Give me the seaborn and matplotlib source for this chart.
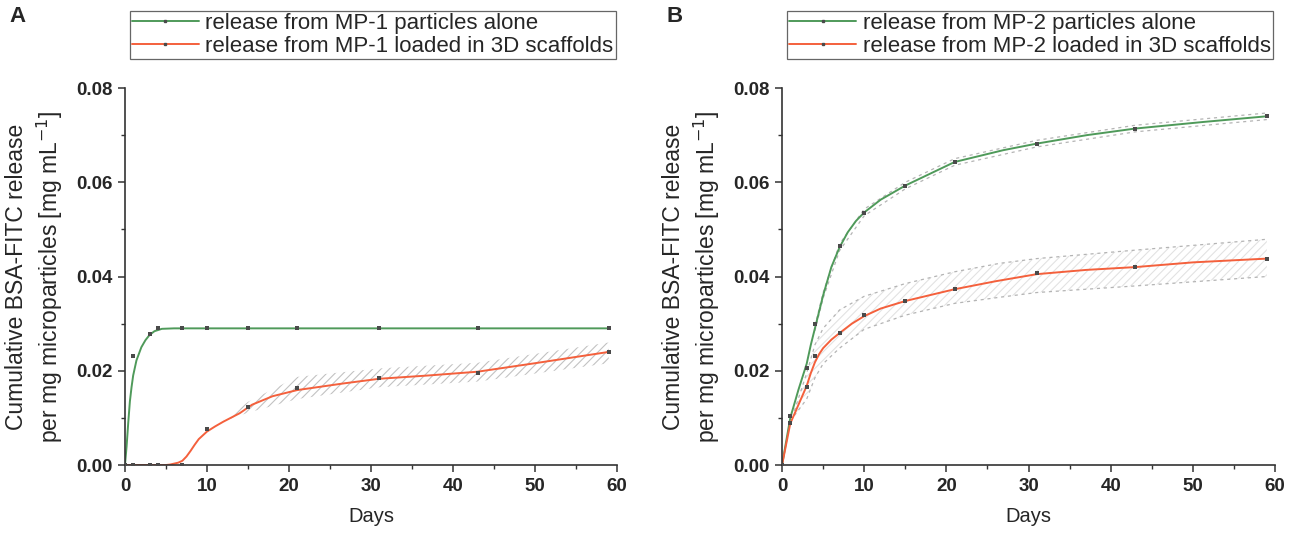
import numpy as np
import pandas as pd
import matplotlib
matplotlib.use("Agg")
import matplotlib.pyplot as plt
from matplotlib.lines import Line2D
from matplotlib.ticker import MultipleLocator, FormatStrFormatter
import seaborn as sns

# measured days
days = [0, 1, 3, 4, 7, 10, 15, 21, 31, 43, 59]

# Panel A - measured points
a_alone_pts = [0, 0.0231, 0.0279, 0.0290, 0.0290, 0.0290, 0.0290, 0.0290, 0.0290, 0.0290, 0.0290]
a_scaf_pts = [0, 0, 0, 0, 0, 0.0076, 0.0123, 0.0164, 0.0185, 0.0196, 0.0240]

# Panel A - fitted curves
a_alone_fit_x = [0, 0.2, 0.4, 0.6, 0.8, 1.0, 1.4, 2.0, 2.5, 3.0, 3.6, 4.5, 6, 59]
a_alone_fit_y = [0, 0.0040, 0.0090, 0.0135, 0.0165, 0.0190, 0.0222, 0.0250, 0.0265, 0.0276, 0.0284, 0.0289, 0.0290, 0.0290]
a_scaf_fit_x = [0, 5, 5.5, 6, 6.5, 7, 7.5, 8, 8.5, 9, 10, 11, 12, 14, 15.5, 18, 21, 26.6, 31, 37, 43, 50, 59]
a_scaf_fit_y = [0, 0, 0.0001, 0.0003, 0.0005, 0.0009, 0.0018, 0.0030, 0.0043, 0.0055, 0.0071, 0.0082,
                0.0092, 0.0110, 0.0128, 0.0146, 0.0159, 0.0173, 0.0183, 0.0190, 0.0198, 0.0216, 0.0240]

# Panel A - hatched band around the scaffold curve
a_band_x = [12, 15, 21, 31, 43, 59]
a_band_lo = [0.0093, 0.0111, 0.0140, 0.0165, 0.0177, 0.0216]
a_band_hi = [0.0097, 0.0134, 0.0187, 0.0205, 0.0217, 0.0260]

# Panel B - measured points
b_alone_pts = [0, 0.0103, 0.0206, 0.0300, 0.0465, 0.0534, 0.0593, 0.0643, 0.0682, 0.0714, 0.0740]
b_scaf_pts = [0, 0.0090, 0.0165, 0.0232, 0.0281, 0.0318, 0.0348, 0.0373, 0.0407, 0.0420, 0.0438]

# Panel B - fitted curves
b_alone_fit_x = [0, 1, 2, 3, 3.5, 4, 5, 6, 7, 8, 9, 10, 12, 15, 21, 26.9, 31, 37.1, 43, 51.3, 59]
b_alone_fit_y = [0, 0.0100, 0.0160, 0.0215, 0.0255, 0.0290, 0.0360, 0.0420, 0.0462, 0.0494, 0.0518,
                 0.0536, 0.0563, 0.0593, 0.0643, 0.0668, 0.0682, 0.0700, 0.0714, 0.0728, 0.0740]
b_scaf_fit_x = [0, 1, 2, 3, 3.5, 4, 4.5, 5, 6, 7, 8.5, 10, 12, 15, 21, 26, 31, 37, 43, 50, 59]
b_scaf_fit_y = [0, 0.0088, 0.0128, 0.0168, 0.0195, 0.0218, 0.0235, 0.0248, 0.0266, 0.0280, 0.0300,
                0.0316, 0.0332, 0.0348, 0.0373, 0.0390, 0.0405, 0.0414, 0.0420, 0.0430, 0.0438]

# Panel B - confidence bands
b_alone_band_x = [4, 5, 7, 10, 15, 21, 31, 43, 59]
b_alone_band_lo = [0.0285, 0.0354, 0.0455, 0.0529, 0.0586, 0.0636, 0.0675, 0.0707, 0.0733]
b_alone_band_hi = [0.0295, 0.0366, 0.0469, 0.0543, 0.0600, 0.0650, 0.0689, 0.0721, 0.0747]
b_scaf_band_x = [1.5, 3, 4, 5, 7, 10, 15, 21, 26.5, 31, 43, 59]
b_scaf_band_lo = [0.0105, 0.0140, 0.0185, 0.0215, 0.0248, 0.0288, 0.0318, 0.0343, 0.0356, 0.0366, 0.0380, 0.0400]
b_scaf_band_hi = [0.0115, 0.0195, 0.0255, 0.0290, 0.0329, 0.0358, 0.0385, 0.0410, 0.0428, 0.0438, 0.0456, 0.0479]

labels_a = ['release from MP-1 particles alone', 'release from MP-1 loaded in 3D scaffolds']
labels_b = ['release from MP-2 particles alone', 'release from MP-2 loaded in 3D scaffolds']

GREEN = '#4f9a5a'
RED = '#f4603c'
PT = '#4a4a4a'

sns.set_style('ticks')
plt.rcParams['font.family'] = ['Liberation Sans', 'DejaVu Sans']
plt.rcParams['hatch.linewidth'] = 0.8

fig = plt.figure(figsize=(12.95, 5.35), dpi=100)
ax_a = fig.add_axes([0.0965, 0.1308, 0.3799, 0.7047])
ax_b = fig.add_axes([0.6039, 0.1308, 0.3807, 0.7047])


def draw_curve(ax, x, y, color):
    sns.lineplot(x=x, y=y, ax=ax, color=color, lw=1.4, sort=False, estimator=None)


def draw_points(ax, y):
    sns.scatterplot(x=days, y=y, ax=ax, color=PT, marker='s', s=5, linewidth=0, zorder=5)


def style_axis(ax, labels):
    ax.set_xlim(0, 60)
    ax.set_ylim(0, 0.08)
    ax.xaxis.set_major_locator(MultipleLocator(10))
    ax.xaxis.set_minor_locator(MultipleLocator(5))
    ax.yaxis.set_major_locator(MultipleLocator(0.02))
    ax.yaxis.set_minor_locator(MultipleLocator(0.01))
    ax.yaxis.set_major_formatter(FormatStrFormatter('%.2f'))
    for s in ['top', 'right']:
        ax.spines[s].set_visible(False)
    for s in ['left', 'bottom']:
        ax.spines[s].set_linewidth(1.2)
        ax.spines[s].set_color('#333333')
    ax.tick_params(which='major', direction='out', length=5, width=1.1, color='#333333',
                   labelsize=13.5, pad=4)
    ax.tick_params(which='minor', direction='out', length=3, width=1.0, color='#333333')
    for t in ax.get_xticklabels() + ax.get_yticklabels():
        t.set_fontweight('bold')
    ax.set_xlabel('Days', fontsize=14.5, labelpad=9)
    ax.set_ylabel('Cumulative BSA-FITC release\nper mg microparticles [mg mL$^{-1}$]',
                  fontsize=16.5, labelpad=8, linespacing=1.3)
    handles = [Line2D([0], [0], color=GREEN, lw=1.4, marker='s', markersize=2,
                      markerfacecolor=PT, markeredgecolor=PT),
               Line2D([0], [0], color=RED, lw=1.4, marker='s', markersize=2,
                      markerfacecolor=PT, markeredgecolor=PT)]
    leg = ax.legend(handles, labels, loc='upper left', bbox_to_anchor=(0.01, 1.205),
                    numpoints=1, fontsize=16, frameon=True, fancybox=False,
                    edgecolor='#666666', framealpha=1, borderpad=0.1, labelspacing=0.1,
                    handlelength=3.0, handletextpad=0.3, borderaxespad=0)
    leg.get_frame().set_linewidth(0.9)


# Panel A
ax_a.fill_between(a_band_x, a_band_lo, a_band_hi, facecolor='none', edgecolor='#c2c2c2',
                  hatch='////', linewidth=0)
draw_curve(ax_a, a_alone_fit_x, a_alone_fit_y, GREEN)
draw_curve(ax_a, a_scaf_fit_x, a_scaf_fit_y, RED)
draw_points(ax_a, a_alone_pts)
draw_points(ax_a, a_scaf_pts)
style_axis(ax_a, labels_a)

# Panel B
ax_b.fill_between(b_scaf_band_x, b_scaf_band_lo, b_scaf_band_hi, facecolor='none',
                  edgecolor='#e2e2e2', hatch='////', linewidth=0)
for bx, by in [(b_scaf_band_x, b_scaf_band_lo), (b_scaf_band_x, b_scaf_band_hi),
               (b_alone_band_x, b_alone_band_lo), (b_alone_band_x, b_alone_band_hi)]:
    sns.lineplot(x=bx, y=by, ax=ax_b, color='#b4b4b4', lw=0.9, linestyle=(0, (2.5, 3)),
                 sort=False, estimator=None)
draw_curve(ax_b, b_alone_fit_x, b_alone_fit_y, GREEN)
draw_curve(ax_b, b_scaf_fit_x, b_scaf_fit_y, RED)
draw_points(ax_b, b_alone_pts)
draw_points(ax_b, b_scaf_pts)
style_axis(ax_b, labels_b)

fig.text(0.007, 0.958, 'A', fontsize=16, fontweight='bold')
fig.text(0.515, 0.958, 'B', fontsize=16, fontweight='bold')

fig.savefig('out.png', dpi=100)
